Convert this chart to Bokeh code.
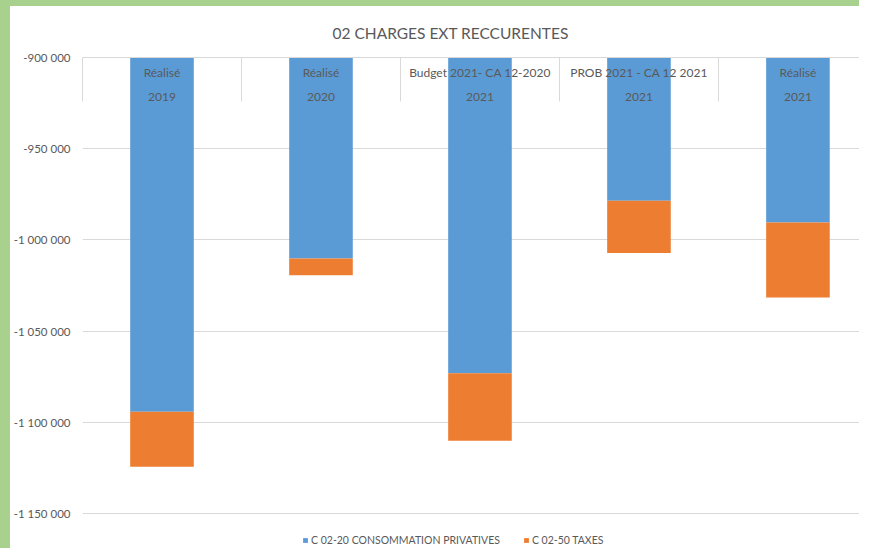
from bokeh.plotting import figure
from bokeh.models import (Range1d, FixedTicker, LinearAxis, Legend, LegendItem,
                          ColumnDataSource)
from bokeh.core.properties import value
from bokeh.embed import file_html
from bokeh.resources import INLINE

# ---- data ----
groups = ["Réalisé", "Réalisé", "Budget 2021- CA 12-2020", "PROB 2021 - CA 12 2021", "Réalisé"]
years = ["2019", "2020", "2021", "2021", "2021"]
consommation = [-1094200, -1010200, -1073000, -978500, -990500]
taxes = [-30100, -9100, -37100, -28600, -41100]
y_ticks = [-1150000, -1100000, -1050000, -1000000, -950000, -900000]
series_names = ["C 02-20 CONSOMMATION PRIVATIVES", "C 02-50 TAXES"]
colors = ["#5B9BD5", "#ED7D31"]
title_text = "02 CHARGES EXT RECCURENTES"

FONT = "Lato"
TXT = "#595959"
GRID = "#d9d9d9"

n = len(groups)
xs = list(range(1, n + 1))
tax_bottom = [c + t for c, t in zip(consommation, taxes)]
y_top = max(y_ticks)
src = ColumnDataSource(dict(x=xs, cons=consommation, tb=tax_bottom, zero=[0] * n,
                            g=groups, yr=years, top=[y_top] * n))

# frame extends a little below the lowest gridline to host the legend
p = figure(width=859, height=548, output_backend="svg", toolbar_location=None,
           x_range=Range1d(0.5, n + 0.45), y_range=Range1d(-1172400, y_top),
           x_axis_location=None,
           min_border_left=0, min_border_right=0, min_border_top=50, min_border_bottom=0)
p.outline_line_color = None
p.background_fill_color = "white"
p.border_fill_color = "white"
p.styles = {"border-left": "10px solid #a9d18e", "border-top": "6px solid #a9d18e"}

p.title.text = title_text
p.title.align = "left"
p.title.offset = 250
p.title.standoff = 31
p.title.text_font = FONT
p.title.text_font_size = "15.5px"
p.title.text_font_style = "normal"
p.title.text_color = TXT

# y axis
p.yaxis.ticker = FixedTicker(ticks=y_ticks)
p.yaxis.major_label_overrides = {v: f"{v:,}".replace(",", " ") for v in y_ticks}
p.yaxis.axis_line_color = None
p.yaxis.major_tick_line_color = None
p.yaxis.major_tick_out = 0
p.yaxis.major_tick_in = 0
p.yaxis.minor_tick_line_color = None
p.yaxis.major_label_standoff = 12
p.yaxis.major_label_text_font = FONT
p.yaxis.major_label_text_font_size = "11.5px"
p.yaxis.major_label_text_color = TXT

p.ygrid.ticker = FixedTicker(ticks=y_ticks)
p.ygrid.grid_line_color = GRID
p.xgrid.grid_line_color = None

# category dividers (top category axis)
div_ticks = [i + 0.5 for i in range(n + 1)]
top_axis = LinearAxis(ticker=FixedTicker(ticks=div_ticks),
                      major_tick_in=44, major_tick_out=0,
                      major_tick_line_color=GRID, minor_tick_line_color=None,
                      axis_line_color=GRID,
                      major_label_overrides={t: "" for t in div_ticks},
                      major_label_standoff=0)
p.add_layout(top_axis, "above")

r1 = p.vbar(x="x", top="zero", bottom="cons", width=0.4, source=src,
            fill_color=colors[0], line_color=None)
r2 = p.vbar(x="x", top="cons", bottom="tb", width=0.4, source=src,
            fill_color=colors[1], line_color=None)

p.text(x="x", y="top", text="g", source=src, y_offset=15, text_align="center",
       text_baseline="middle", text_font=value(FONT), text_font_size="12px", text_color=TXT)
p.text(x="x", y="top", text="yr", source=src, y_offset=39, text_align="center",
       text_baseline="middle", text_font=value(FONT), text_font_size="12px", text_color=TXT)

legend = Legend(items=[LegendItem(label=series_names[0], renderers=[r1]),
                       LegendItem(label=series_names[1], renderers=[r2])],
                orientation="horizontal", location=(220, 8),
                label_text_font=FONT, label_text_font_size="10.5px", label_text_color=TXT,
                glyph_width=6, glyph_height=6, label_height=12, label_standoff=3,
                spacing=23, padding=0, margin=0, border_line_color=None,
                background_fill_alpha=0)
p.add_layout(legend, "center")

open("out.html", "w").write(file_html(p, INLINE))
